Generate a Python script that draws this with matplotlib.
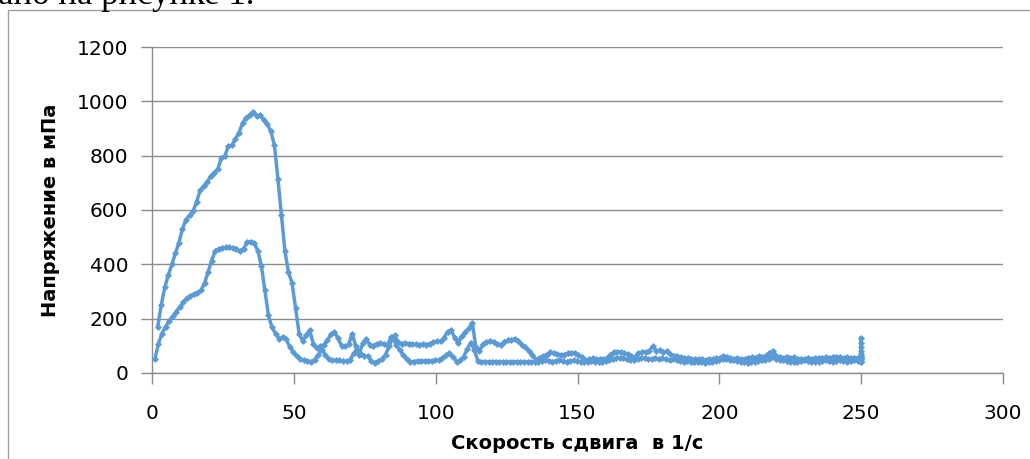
#!/usr/bin/env python3
"""Flow curve (hysteresis loop): shear stress vs shear rate, up/hold/down."""

import matplotlib
matplotlib.use("Agg")
import matplotlib.pyplot as plt
from matplotlib.patches import Rectangle
import numpy as np

BLUE = "#5B9BD5"
GRID = "#8C8C8C"

# ramp up, 2 -> 250 1/s (200 points)
rate_up = np.linspace(2, 250, 200)
stress_up = [
    170, 250, 315, 360, 400, 440, 480, 530, 565, 580,
    595, 630, 672, 688, 703, 725, 738, 750, 790, 800,
    835, 838, 862, 885, 920, 940, 950, 962, 945, 948,
    932, 915, 890, 840, 715, 580, 448, 372, 330, 240,
    145, 118, 140, 158, 108, 92, 98, 104, 120, 142,
    150, 128, 100, 98, 105, 145, 100, 68, 110, 126,
    104, 100, 108, 110, 106, 102, 132, 138, 114, 108,
    110, 108, 106, 105, 102, 108, 104, 108, 114, 116,
    116, 130, 152, 158, 130, 110, 135, 150, 165, 185,
    95, 80, 106, 114, 118, 115, 108, 104, 115, 120,
    123, 125, 118, 104, 95, 82, 66, 48, 55, 62,
    68, 76, 72, 70, 66, 68, 72, 74, 73, 66,
    58, 48, 50, 54, 52, 50, 52, 54, 68, 76,
    78, 76, 72, 70, 62, 58, 72, 76, 78, 80,
    98, 82, 84, 76, 80, 70, 64, 62, 58, 55,
    56, 52, 50, 52, 50, 48, 50, 52, 54, 56,
    62, 60, 56, 52, 54, 50, 52, 55, 58, 56,
    62, 58, 64, 74, 80, 64, 58, 56, 60, 55,
    58, 52, 50, 52, 54, 52, 54, 56, 55, 58,
    56, 58, 60, 58, 56, 58, 56, 55, 56, 60,
]

# hold at 250 1/s
stress_hold = [130, 110, 95, 80, 70, 62, 55, 50, 45, 40]

# ramp down, 250 -> 1 1/s (200 points)
rate_down = np.linspace(250, 1, 200)
stress_down = [
    42, 44, 46, 44, 42, 44, 46, 44, 42, 44,
    46, 44, 42, 40, 42, 44, 46, 44, 42, 40,
    42, 44, 46, 48, 50, 58, 52, 48, 46, 44,
    42, 40, 38, 40, 42, 44, 46, 48, 50, 52,
    48, 44, 42, 40, 38, 40, 42, 40, 42, 44,
    42, 44, 46, 52, 48, 50, 54, 50, 56, 52,
    50, 54, 56, 52, 48, 46, 50, 54, 56, 54,
    50, 46, 44, 42, 40, 42, 44, 42, 40, 42,
    44, 46, 44, 42, 44, 46, 44, 42, 44, 46,
    44, 42, 40, 40, 42, 40, 40, 42, 40, 40,
    42, 40, 40, 42, 42, 40, 42, 42, 44, 85,
    112, 88, 60, 46, 42, 58, 72, 66, 55, 48,
    46, 45, 44, 44, 45, 44, 42, 42, 50, 66,
    84, 104, 130, 98, 68, 52, 44, 38, 44, 62,
    62, 70, 88, 72, 48, 43, 44, 46, 46, 47,
    50, 68, 86, 66, 48, 42, 45, 47, 52, 62,
    76, 96, 124, 132, 126, 145, 168, 212, 304, 395,
    450, 478, 484, 482, 458, 448, 458, 461, 462, 462,
    460, 457, 450, 414, 372, 330, 305, 296, 290, 283,
    275, 260, 243, 226, 208, 192, 170, 145, 108, 50,
]

rate = np.concatenate([rate_up, np.full(len(stress_hold), 250.0), rate_down])
stress = np.concatenate([stress_up, stress_hold, stress_down])

fig = plt.figure(figsize=(10.30, 4.59), dpi=100)
ax = fig.add_axes([0.1476, 0.1874, 0.8262, 0.7102])

ax.plot(rate, stress, color=BLUE, linewidth=2.5, marker="D", markersize=3,
        markeredgewidth=0.6, zorder=3)

ax.set_xlim(0, 300)
ax.set_ylim(0, 1200)
ax.set_xticks(np.arange(0, 301, 50))
ax.set_yticks(np.arange(0, 1201, 200))
ax.grid(axis="y", color=GRID, linewidth=1.0)
ax.set_axisbelow(True)
for side in ("top", "right"):
    ax.spines[side].set_visible(False)
for side in ("left", "bottom"):
    ax.spines[side].set_color(GRID)
    ax.spines[side].set_linewidth(1.0)
ax.tick_params(axis="both", direction="out", length=8, width=1.0,
               color=GRID, labelsize=14.5)
ax.tick_params(axis="x", pad=14)
ax.tick_params(axis="y", pad=9)

ax.set_xlabel("Скорость сдвига  в 1/с", fontsize=14, fontweight="bold",
              labelpad=8)
ax.set_ylabel("Напряжение в мПа", fontsize=14, fontweight="bold",
              labelpad=12)

# chart frame and the line of body text above it
fig.add_artist(Rectangle((8 / 1030, -0.05), 1.1, 1 - 10 / 459 + 0.05,
                         transform=fig.transFigure, fill=False,
                         edgecolor="#A0A0A0", linewidth=1.0))
fig.text(-0.002, 1 - 4.5 / 459, "ано на рисунке 1.",
         family="Liberation Serif", fontsize=25, va="baseline", ha="left")

fig.savefig("out.png", dpi=100)
plt.close(fig)
